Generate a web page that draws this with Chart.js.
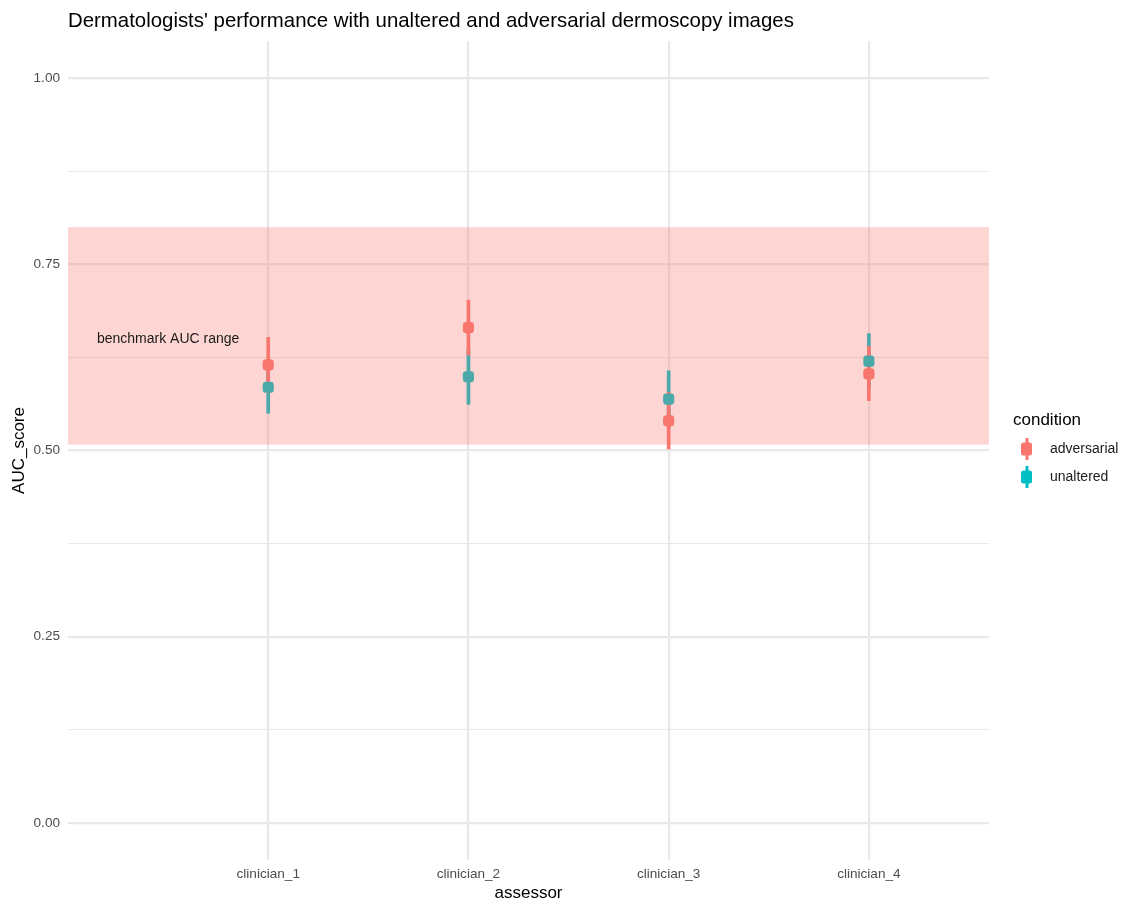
<!DOCTYPE html>
<html>
<head>
<meta charset="utf-8">
<script src="https://cdn.jsdelivr.net/npm/chart.js@4"></script>
<style>
  body { margin: 0; background: #fff; }
  #chart { display: block; }
</style>
</head>
<body>
<canvas id="chart" width="1126" height="900"></canvas>
<script>
// === Data ===
const assessors = ["clinician_1", "clinician_2", "clinician_3", "clinician_4"];
const assessorPos = [1, 2, 3, 4];
const adversarialAUC = [0.615, 0.665, 0.54, 0.603];
const adversarialLow = [0.578, 0.628, 0.502, 0.567];
const adversarialHigh = [0.652, 0.702, 0.578, 0.64];
const unalteredAUC = [0.585, 0.599, 0.569, 0.62];
const unalteredLow = [0.55, 0.562, 0.531, 0.583];
const unalteredHigh = [0.62, 0.636, 0.607, 0.657];
const yTicks = [0, 0.125, 0.25, 0.375, 0.5, 0.625, 0.75, 0.875, 1];
const benchmarkRange = [0.508, 0.8];
const benchmarkLabel = "benchmark AUC range";

const RED = "#F8766D";
const TEAL = "#00BFC4";
const FONT = "'Liberation Sans', Arial, sans-serif";

const points = (vals) => vals.map((v, i) => ({ x: assessorPos[i], y: v }));
const ranges = (lo, hi) => lo.map((v, i) => ({ x: assessorPos[i], y: [v, hi[i]] }));

// band drawn over the marks, like the annotate layer
const bandPlugin = {
  id: "bench",
  afterDatasetsDraw(chart) {
    const { ctx, chartArea, scales } = chart;
    const yTop = scales.y.getPixelForValue(benchmarkRange[1]);
    const yBot = scales.y.getPixelForValue(benchmarkRange[0]);
    ctx.save();
    ctx.fillStyle = "rgba(248,118,109,0.3)";
    ctx.fillRect(chartArea.left, yTop, chartArea.right - chartArea.left, yBot - yTop);
    ctx.fillStyle = "#1a1a1a";
    ctx.font = "14px " + FONT;
    ctx.textAlign = "center";
    ctx.textBaseline = "middle";
    ctx.fillText(benchmarkLabel, scales.x.getPixelForValue(0.5), scales.y.getPixelForValue(0.65));
    ctx.restore();
  },
};

// title + legend
const decorPlugin = {
  id: "decor",
  afterDraw(chart) {
    const { ctx } = chart;
    ctx.save();
    ctx.fillStyle = "#000";
    ctx.font = "20.4px " + FONT;
    ctx.textBaseline = "middle";
    ctx.fillText("Dermatologists' performance with unaltered and adversarial dermoscopy images", 68, 21);

    ctx.font = "17px " + FONT;
    ctx.fillText("condition", 1013, 420);
    const items = [["adversarial", RED, 449], ["unaltered", TEAL, 477]];
    items.forEach(([label, color, y]) => {
      ctx.fillStyle = color;
      ctx.fillRect(1025.5, y - 11, 3, 22);
      ctx.beginPath();
      ctx.roundRect(1021, y - 6.5, 11, 13, 2.5);
      ctx.fill();
      ctx.fillStyle = "#1a1a1a";
      ctx.font = "14px " + FONT;
      ctx.fillText(label, 1050, y);
    });
    ctx.restore();
  },
};

new Chart(document.getElementById("chart"), {
  data: {
    datasets: [
      {
        type: "line",
        label: "adversarial",
        data: points(adversarialAUC),
        showLine: false,
        pointStyle: "rectRounded",
        pointRadius: 6.5,
        backgroundColor: RED,
        borderWidth: 0,
        order: 0,
      },
      {
        type: "line",
        label: "unaltered",
        data: points(unalteredAUC),
        showLine: false,
        pointStyle: "rectRounded",
        pointRadius: 6.5,
        backgroundColor: TEAL,
        borderWidth: 0,
        order: 0,
      },
      {
        type: "bar",
        label: "adversarial range",
        data: ranges(adversarialLow, adversarialHigh),
        backgroundColor: RED,
        barThickness: 3,
        grouped: false,
        order: 1,
      },
      {
        type: "bar",
        label: "unaltered range",
        data: ranges(unalteredLow, unalteredHigh),
        backgroundColor: TEAL,
        barThickness: 3,
        grouped: false,
        order: 2,
      },
    ],
  },
  options: {
    responsive: false,
    animation: false,
    devicePixelRatio: 1,
    layout: { padding: { top: 41, right: 137, left: 0, bottom: 0 } },
    plugins: {
      legend: { display: false },
      tooltip: { enabled: false },
    },
    scales: {
      x: {
        type: "linear",
        min: 0,
        max: 4.6,
        offset: false,
        afterBuildTicks: (scale) => {
          scale.ticks = assessorPos.map((v) => ({ value: v }));
        },
        afterFit: (scale) => {
          scale.height = 40;
        },
        ticks: {
          callback: (v) => assessors[assessorPos.indexOf(v)] || "",
          color: "#4D4D4D",
          font: { family: FONT, size: 13.6 },
          padding: 6,
          maxRotation: 0,
        },
        grid: { color: "#E8E8E8", lineWidth: 2.2, drawTicks: false, offset: false },
        border: { display: false },
        title: {
          display: true,
          text: "assessor",
          color: "#000",
          font: { family: FONT, size: 17 },
          padding: { top: 0, bottom: -4 },
        },
      },
      y: {
        min: -0.05,
        max: 1.05,
        afterBuildTicks: (scale) => {
          scale.ticks = yTicks.map((v) => ({ value: v }));
        },
        afterFit: (scale) => {
          scale.width = 68;
        },
        ticks: {
          callback: (v) => (Math.round(v * 1000) % 250 === 0 ? v.toFixed(2) : ""),
          color: "#4D4D4D",
          font: { family: FONT, size: 13.6 },
          padding: 8,
        },
        grid: {
          color: "#E8E8E8",
          lineWidth: (c) => (Math.round(c.tick.value * 1000) % 250 === 0 ? 2.2 : 1.1),
          drawTicks: false,
        },
        border: { display: false },
        title: {
          display: true,
          text: "AUC_score",
          color: "#000",
          font: { family: FONT, size: 17 },
          padding: { top: 9, bottom: 0 },
        },
      },
    },
  },
  plugins: [bandPlugin, decorPlugin],
});
</script>
</body>
</html>
